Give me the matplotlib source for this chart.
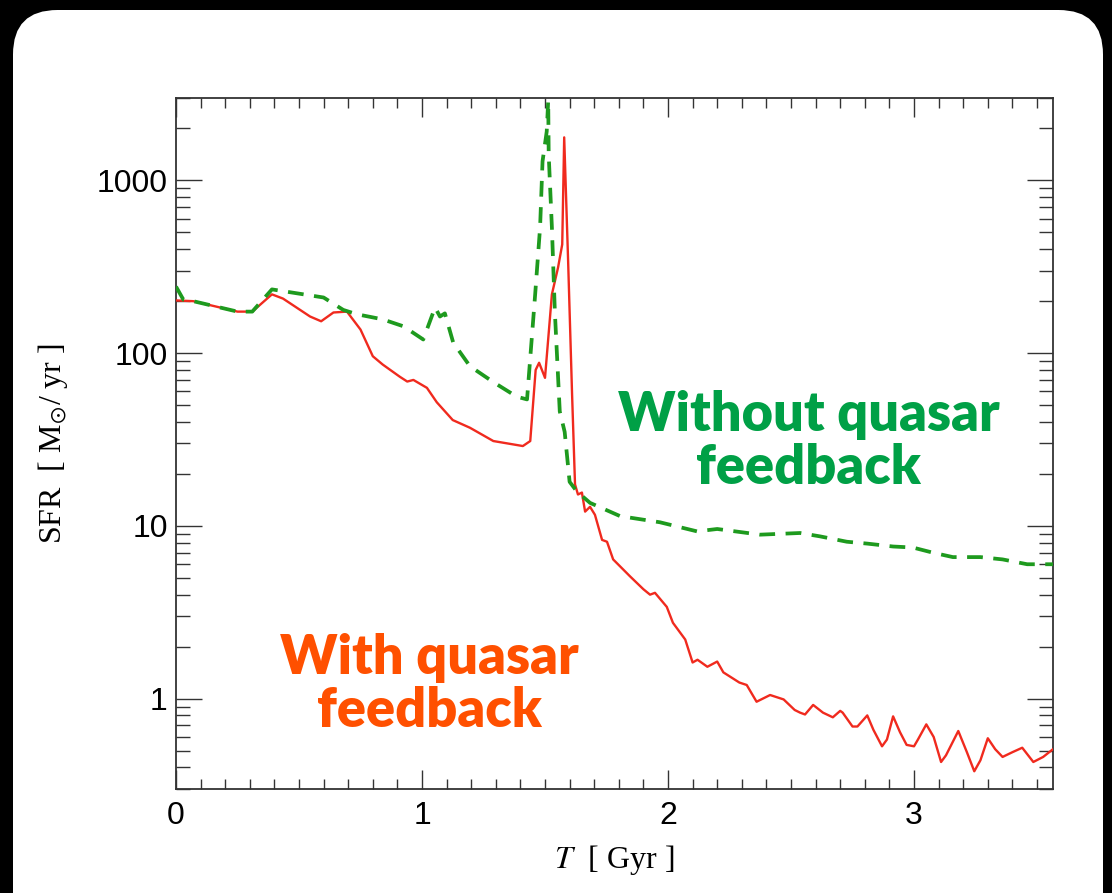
"""Star formation rate with and without quasar feedback"""

import matplotlib
matplotlib.use("Agg")
import matplotlib.pyplot as plt
from matplotlib.patches import FancyBboxPatch
from matplotlib.ticker import LogLocator, MultipleLocator, NullFormatter

# with quasar feedback (red, solid)
t_with = [0.0, 0.07, 0.25, 0.31, 0.39, 0.435, 0.545, 0.59, 0.64, 0.695,
          0.75, 0.80, 0.84, 0.91, 0.94, 0.965, 1.02, 1.06, 1.125, 1.195,
          1.29, 1.41, 1.44, 1.462, 1.476, 1.50, 1.528, 1.553, 1.57, 1.578,
          1.594, 1.61, 1.622, 1.634, 1.65, 1.663, 1.683, 1.703, 1.732, 1.752,
          1.777, 1.846, 1.90, 1.927, 1.947, 1.995, 2.02, 2.07, 2.10, 2.12,
          2.16, 2.20, 2.225, 2.29, 2.32, 2.36, 2.415, 2.47, 2.515, 2.537,
          2.557, 2.59, 2.63, 2.67, 2.70, 2.71, 2.75, 2.77, 2.81, 2.835,
          2.87, 2.89, 2.915, 2.943, 2.97, 3.00, 3.016, 3.05, 3.08, 3.11,
          3.13, 3.18, 3.215, 3.245, 3.27, 3.30, 3.33, 3.36, 3.40, 3.44,
          3.485, 3.525, 3.565]
sfr_with = [202, 200, 174, 174, 219, 207, 163, 153, 172, 174,
            137, 96, 86, 73, 68.5, 70, 63, 52, 41, 37,
            31, 29, 31, 80, 88, 72, 219, 313, 426, 1775,
            340, 58, 17.4, 15.2, 15.6, 12.1, 12.9, 11.6, 8.3, 8.1,
            6.4, 5.1, 4.3, 4.0, 4.1, 3.4, 2.75, 2.2, 1.62, 1.68,
            1.53, 1.64, 1.42, 1.24, 1.2, 0.96, 1.05, 0.99, 0.86, 0.83,
            0.81, 0.92, 0.83, 0.78, 0.85, 0.83, 0.69, 0.69, 0.80, 0.66,
            0.53, 0.58, 0.79, 0.64, 0.54, 0.53, 0.58, 0.71, 0.60, 0.43,
            0.47, 0.65, 0.49, 0.38, 0.44, 0.59, 0.51, 0.46, 0.49, 0.52,
            0.43, 0.46, 0.51]

# without quasar feedback (green, dashed)
t_without = [0.0, 0.03, 0.07, 0.25, 0.31, 0.39, 0.475, 0.60, 0.68, 0.735,
             0.84, 0.925, 1.005, 1.053, 1.073, 1.093, 1.127, 1.195, 1.29, 1.385,
             1.427, 1.46, 1.48, 1.49, 1.507, 1.513, 1.515, 1.528, 1.54, 1.56,
             1.58, 1.60, 1.63, 1.683, 1.805, 1.967, 2.118, 2.20, 2.374, 2.537,
             2.618, 2.727, 2.81, 2.915, 2.995, 3.077, 3.158, 3.27, 3.36, 3.46,
             3.565]
sfr_without = [243, 204, 200, 174, 174, 234, 224, 210, 178, 168,
               157, 143, 120, 184, 163, 170, 115, 84, 68, 56,
               54, 219, 535, 1290, 1920, 2900, 1410, 535, 174, 46,
               35, 18, 15.8, 13.6, 11.4, 10.5, 9.3, 9.6, 8.9, 9.1,
               8.7, 8.1, 7.9, 7.6, 7.5, 7.0, 6.6, 6.6, 6.4, 6.0,
               6.0]

xticks = [0, 1, 2, 3]
yticks = [1, 10, 100, 1000]
ytick_labels = ["1", "10", "100", "1000"]

plt.rcParams["mathtext.fontset"] = "stix"

fig = plt.figure(figsize=(11.12, 8.93), dpi=100)
fig.patch.set_facecolor("black")
# white rounded slide panel, kept behind the axes
panel = FancyBboxPatch((13 / 1112, -0.05), (1103 - 13) / 1112, 1.05 - 10 / 893,
                       boxstyle="round,pad=0,rounding_size=0.04",
                       transform=fig.transFigure, facecolor="white",
                       edgecolor="none", mutation_aspect=1112 / 893, zorder=-5)
fig.patches.append(panel)

ax = fig.add_axes([176 / 1112, 1 - 789 / 893, (1053 - 176) / 1112, (789 - 98) / 893])
ax.set_zorder(2)
ax.set_facecolor("white")

ax.plot(t_with, sfr_with, color="#f02a1e", lw=1.7, zorder=3,
        solid_joinstyle="round")
ax.plot(t_without, sfr_without, color="#1e9a1e", lw=2.7, dashes=(4.2, 2.8), zorder=4)

ax.set_yscale("log")
ax.set_xlim(0, 3.565)
ax.set_ylim(0.3, 3000)

ax.set_xticks(xticks)
ax.set_xticklabels([str(x) for x in xticks])
ax.xaxis.set_minor_locator(MultipleLocator(0.1))
ax.set_yticks(yticks)
ax.set_yticklabels(ytick_labels)
ax.yaxis.set_minor_locator(LogLocator(base=10, subs=range(2, 10)))
ax.yaxis.set_minor_formatter(NullFormatter())

for s in ax.spines.values():
    s.set_linewidth(1.3)
    s.set_color("#333333")

ax.tick_params(axis="both", which="both", direction="in", top=True, right=True,
               color="#333333", width=1.0, labelsize=23, labelcolor="black")
ax.tick_params(axis="x", which="major", length=14, pad=9)
ax.tick_params(axis="x", which="minor", length=7)
ax.tick_params(axis="y", which="major", length=19, pad=6)
ax.tick_params(axis="y", which="minor", length=10)
for lab in ax.get_xticklabels() + ax.get_yticklabels():
    lab.set_fontfamily("Liberation Sans")

ax.set_xlabel(r"$T$  [ Gyr ]", fontsize=23, family="Liberation Serif")
ax.set_ylabel(r"SFR  [ M$_{\odot}$/ yr ]", fontsize=23, family="Liberation Serif")
ax.xaxis.set_label_coords(0.5, -0.078)
ax.yaxis.set_label_coords(-0.121, 0.5)

ax.text(0.721, 0.503, "Without quasar\nfeedback", transform=ax.transAxes,
        ha="center", va="center", fontsize=39, fontweight="heavy",
        family="Lato", color="#00a046", linespacing=1.08)
ax.text(0.289, 0.151, "With quasar\nfeedback", transform=ax.transAxes,
        ha="center", va="center", fontsize=39, fontweight="heavy",
        family="Lato", color="#ff5000", linespacing=1.08)

plt.savefig("out.png", dpi=100, facecolor=fig.get_facecolor())
plt.close()
